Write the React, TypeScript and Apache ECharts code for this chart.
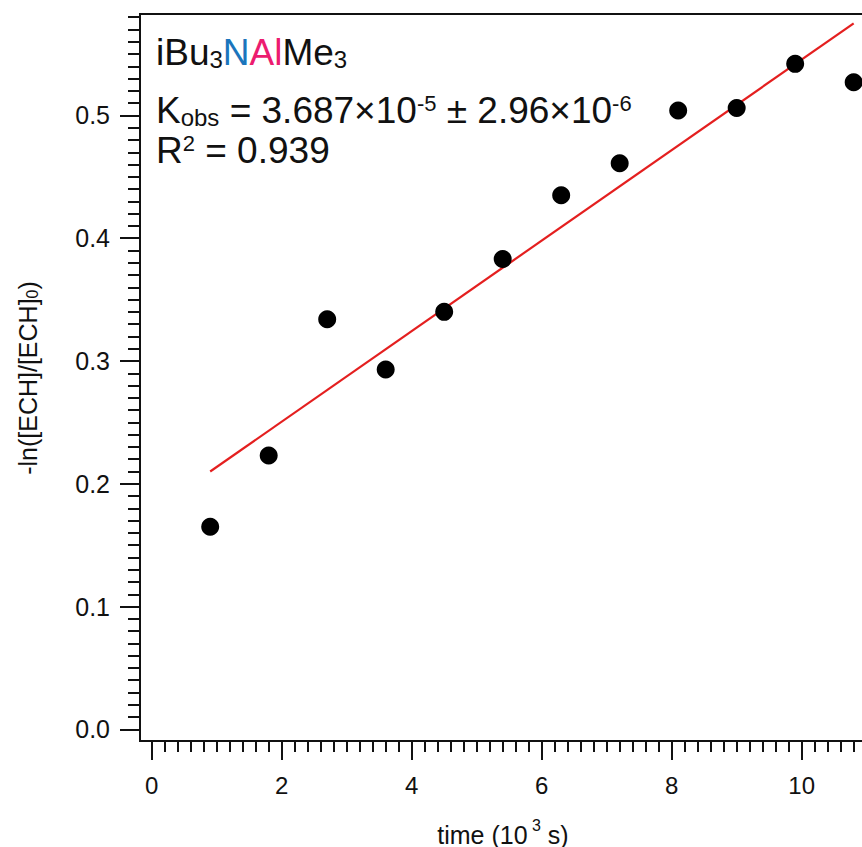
import React, { useEffect, useRef } from "react";
import * as echarts from "echarts";

// Data
const timeValues = [0.9, 1.8, 2.7, 3.6, 4.5, 5.4, 6.3, 7.2, 8.1, 9.0, 9.9, 10.8];
const lnValues = [0.165, 0.223, 0.334, 0.293, 0.34, 0.383, 0.435, 0.461, 0.504, 0.506, 0.542, 0.527];
const fitTime = [0.9, 10.8];
const fitValues = [0.21, 0.575];

// Tick labels
const xMajorTicks = [0, 2, 4, 6, 8, 10];
const yMajorTicks = [0, 0.1, 0.2, 0.3, 0.4, 0.5];

const xMinorTicks: number[] = [];
for (let k = 1; k <= 57; k++) if (k % 10 !== 0) xMinorTicks.push(Math.round(k * 20) / 100);
const yMinorTicks: number[] = [];
for (let k = 1; k <= 58; k++) if (k % 10 !== 0) yMinorTicks.push(k / 100);

const FONT = "'Liberation Sans', Arial, Helvetica, sans-serif";
const INK = "#111111";

export default function App() {
  const ref = useRef<HTMLDivElement>(null);
  useEffect(() => {
    if (!ref.current) return;
    const chart = echarts.init(ref.current, null, { renderer: "svg" });
    const X_MIN = -0.18, X_MAX = 11.605, Y_MIN = -0.0095, Y_MAX = 0.5826;
    const axisLine = { show: true, onZero: false, lineStyle: { color: INK, width: 2 } };
    const S = 37;
    const rich: any = {
      n: { fontSize: S, fontFamily: FONT, fill: INK, lineHeight: S, verticalAlign: "bottom" },
      sub: { fontSize: 24, fontFamily: FONT, fill: INK, lineHeight: 18, verticalAlign: "bottom" },
      sup: { fontSize: 22, fontFamily: FONT, fill: INK, lineHeight: 24, verticalAlign: "top" },
      blue: { fontSize: S, fontFamily: FONT, fill: "#1b75bc", lineHeight: S, verticalAlign: "bottom" },
      pink: { fontSize: S, fontFamily: FONT, fill: "#ec1c6f", lineHeight: S, verticalAlign: "bottom" },
    };
    chart.setOption({
      animation: false,
      backgroundColor: "#ffffff",
      grid: {
        left: 140, top: 14, right: 0, bottom: 106,
        show: true, borderColor: INK, borderWidth: 2, backgroundColor: "transparent",
      },
      xAxis: [
        {
          type: "value", min: X_MIN, max: X_MAX, position: "bottom",
          axisLine,
          axisTick: { show: true, inside: false, length: 19, customValues: xMajorTicks, lineStyle: { color: INK, width: 2 } },
          axisLabel: { show: true, customValues: xMajorTicks, margin: 32, fontSize: 24, fontFamily: FONT, color: INK },
          splitLine: { show: false },
        },
        {
          type: "value", min: X_MIN, max: X_MAX, position: "bottom",
          axisLine: { show: false, onZero: false },
          axisTick: { show: true, inside: false, length: 11, customValues: xMinorTicks, lineStyle: { color: INK, width: 2 } },
          axisLabel: { show: false },
          splitLine: { show: false },
        },
      ],
      yAxis: [
        {
          type: "value", min: Y_MIN, max: Y_MAX, position: "left",
          axisLine,
          axisTick: { show: true, inside: false, length: 20, customValues: yMajorTicks, lineStyle: { color: INK, width: 2 } },
          axisLabel: {
            show: true, customValues: yMajorTicks, margin: 30, fontSize: 25, fontFamily: FONT, color: INK,
            formatter: (v: number) => v.toFixed(1),
          },
          splitLine: { show: false },
        },
        {
          type: "value", min: Y_MIN, max: Y_MAX, position: "left",
          axisLine: { show: false, onZero: false },
          axisTick: { show: true, inside: false, length: 12, customValues: yMinorTicks, lineStyle: { color: INK, width: 2 } },
          axisLabel: { show: false },
          splitLine: { show: false },
        },
      ],
      series: [
        {
          type: "line",
          xAxisIndex: 0, yAxisIndex: 0,
          data: fitTime.map((t, i) => [t, fitValues[i]]),
          showSymbol: false, symbol: "none",
          lineStyle: { color: "#e41f1f", width: 2.2 },
          z: 2,
        },
        {
          type: "scatter",
          xAxisIndex: 0, yAxisIndex: 0,
          data: timeValues.map((t, i) => [t, lnValues[i]]),
          symbol: "circle", symbolSize: 18,
          itemStyle: { color: "#000000", opacity: 1 },
          z: 3,
        },
      ],
      graphic: [
        {
          type: "text", left: 156, top: 34,
          style: { text: "{n|iBu}{sub|3}{blue|N}{pink|Al}{n|Me}{sub|3}", rich },
        },
        {
          type: "text", left: 156, top: 92,
          style: { text: "{n|K}{sub|obs}{n| = 3.687×10}{sup|-5}{n| ± 2.96×10}{sup|-6}", rich },
        },
        {
          type: "text", left: 156, top: 132,
          style: { text: "{n|R}{sup|2}{n| = 0.939}", rich },
        },
        {
          type: "text", x: 503, y: 832,
          style: {
            text: "{n|time (10}{sup| 3}{n| s)}",
            align: "center", verticalAlign: "middle",
            rich: {
              n: { fontSize: 25, fontFamily: FONT, fill: INK, lineHeight: 30, verticalAlign: "bottom" },
              sup: { fontSize: 16, fontFamily: FONT, fill: INK, lineHeight: 16, verticalAlign: "top" },
            } as any,
          },
        },
        {
          type: "text", x: 25, y: 378, rotation: Math.PI / 2,
          style: {
            text: "{n|-ln([ECH]/[ECH]}{sub|0}{n|)}",
            align: "center", verticalAlign: "middle",
            rich: {
              n: { fontSize: 25, fontFamily: FONT, fill: INK, lineHeight: 30, verticalAlign: "bottom" },
              sub: { fontSize: 16, fontFamily: FONT, fill: INK, lineHeight: 16, verticalAlign: "bottom" },
            } as any,
          },
        },
      ],
    });
    return () => chart.dispose();
  }, []);
  return (
    <div style={{ position: "absolute", left: 0, top: 0, width: 862, height: 847, overflow: "hidden", background: "#fff" }}>
      <div ref={ref} style={{ position: "absolute", left: 0, top: 0, width: 906, height: 847 }} />
    </div>
  );
}
